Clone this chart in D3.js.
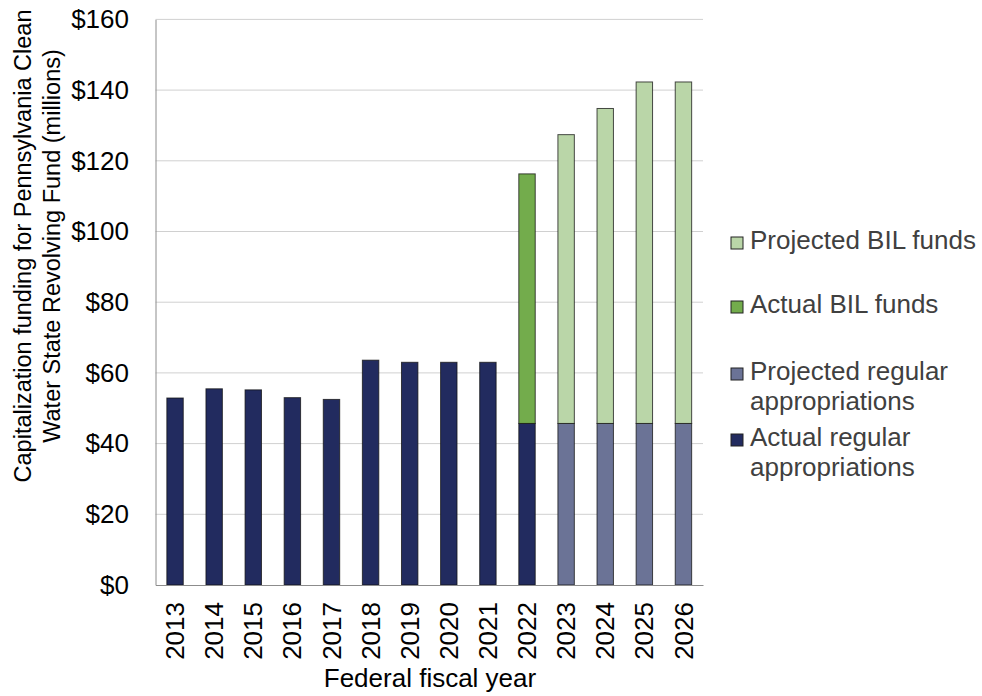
<!DOCTYPE html>
<html>
<head>
<meta charset="utf-8">
<script src="https://cdnjs.cloudflare.com/ajax/libs/d3/7.8.5/d3.min.js"></script>
<style>
  body { margin: 0; background: #fff; }
  svg { display: block; font-family: "Liberation Sans", Arial, sans-serif; }
</style>
</head>
<body>
<svg id="chart" width="982" height="696"></svg>
<script>
// chart data
const years = ["2013", "2014", "2015", "2016", "2017", "2018", "2019", "2020", "2021", "2022", "2023", "2024", "2025", "2026"];
const actualRegular = [52.9, 55.5, 55.2, 53.0, 52.5, 63.6, 63.0, 63.0, 63.0, 45.7, 0, 0, 0, 0];
const projectedRegular = [0, 0, 0, 0, 0, 0, 0, 0, 0, 0, 45.7, 45.7, 45.7, 45.7];
const actualBIL = [0, 0, 0, 0, 0, 0, 0, 0, 0, 70.6, 0, 0, 0, 0];
const projectedBIL = [0, 0, 0, 0, 0, 0, 0, 0, 0, 0, 81.7, 89.1, 96.6, 96.6];
const seriesNames = ["Actual regular appropriations", "Projected regular appropriations", "Actual BIL funds", "Projected BIL funds"];
const yTicks = [0, 20, 40, 60, 80, 100, 120, 140, 160];

const colors = {
  "Actual regular appropriations": "#222b5f",
  "Projected regular appropriations": "#6b7396",
  "Actual BIL funds": "#73ac4c",
  "Projected BIL funds": "#bad6a8"
};

const svg = d3.select("#chart");
const margin = { left: 155.5, right: 279, top: 19.4, bottom: 111 };
const width = 982 - margin.left - margin.right;
const height = 696 - margin.top - margin.bottom;

const g = svg.append("g").attr("transform", `translate(${margin.left},${margin.top})`);

const rows = years.map((y, i) => ({
  year: y,
  "Actual regular appropriations": actualRegular[i],
  "Projected regular appropriations": projectedRegular[i],
  "Actual BIL funds": actualBIL[i],
  "Projected BIL funds": projectedBIL[i]
}));

const x = d3.scaleBand().domain(years).range([0, width]).paddingInner(0.58).paddingOuter(0.29);
const y = d3.scaleLinear().domain([0, 160]).range([height, 0]);

// gridlines
g.append("g")
  .selectAll("line")
  .data(yTicks.filter(t => t > 0))
  .join("line")
  .attr("x1", 0).attr("x2", width)
  .attr("y1", d => y(d)).attr("y2", d => y(d))
  .attr("stroke", "#d0d0d0").attr("stroke-width", 1);

// stacked bars
const stack = d3.stack().keys(seriesNames)(rows);
g.append("g")
  .selectAll("g")
  .data(stack)
  .join("g")
  .attr("fill", d => colors[d.key])
  .selectAll("rect")
  .data(d => d.filter(p => p[1] - p[0] > 0))
  .join("rect")
  .attr("x", d => x(d.data.year))
  .attr("width", x.bandwidth())
  .attr("y", d => y(d[1]))
  .attr("height", d => y(d[0]) - y(d[1]))
  .attr("stroke", "#111")
  .attr("stroke-opacity", 0.75)
  .attr("stroke-width", 1);

// y axis
const yAxis = g.append("g")
  .call(d3.axisLeft(y).tickValues(yTicks).tickSize(0).tickPadding(26.5).tickFormat(d => "$" + d));
yAxis.select(".domain").attr("stroke", "#8c8c8c");
yAxis.selectAll("text").attr("font-size", 26).attr("fill", "#000");

// x axis
const xAxis = g.append("g")
  .attr("transform", `translate(0,${height})`)
  .call(d3.axisBottom(x).tickSize(0).tickPadding(0));
xAxis.select(".domain").attr("stroke", "#8c8c8c");
xAxis.selectAll("text")
  .attr("font-size", 26)
  .attr("fill", "#000")
  .attr("transform", "rotate(-90)")
  .attr("text-anchor", "end")
  .attr("x", -17)
  .attr("y", 0)
  .attr("dy", "0.35em");

// axis titles
svg.append("text")
  .attr("x", 430).attr("y", 687)
  .attr("text-anchor", "middle")
  .attr("font-size", 26)
  .attr("fill", "#000")
  .text("Federal fiscal year");

const yTitle = svg.append("text")
  .attr("transform", "translate(0,246) rotate(-90)")
  .attr("text-anchor", "middle")
  .attr("font-size", 23.5)
  .attr("fill", "#000");
yTitle.append("tspan").attr("x", 0).attr("y", 31).text("Capitalization funding for Pennsylvania Clean");
yTitle.append("tspan").attr("x", 0).attr("y", 60).text("Water State Revolving Fund (millions)");

// legend
const legendItems = [
  { key: "Projected BIL funds", lines: ["Projected BIL funds"], y: 249 },
  { key: "Actual BIL funds", lines: ["Actual BIL funds"], y: 313 },
  { key: "Projected regular appropriations", lines: ["Projected regular", "appropriations"], y: 380 },
  { key: "Actual regular appropriations", lines: ["Actual regular", "appropriations"], y: 446 }
];
const legend = svg.append("g");
legendItems.forEach(item => {
  legend.append("rect")
    .attr("x", 731).attr("y", item.y - 12)
    .attr("width", 12).attr("height", 12)
    .attr("fill", colors[item.key])
    .attr("stroke", "#222").attr("stroke-width", 1);
  const t = legend.append("text")
    .attr("font-size", 26)
    .attr("fill", "#404040");
  item.lines.forEach((l, i) => {
    t.append("tspan").attr("x", 750).attr("y", item.y + i * 30).text(l);
  });
});
</script>
</body>
</html>
